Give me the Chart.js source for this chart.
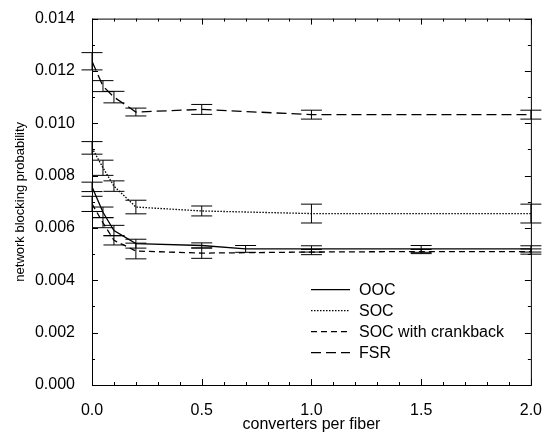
<!DOCTYPE html>
<html>
<head>
<meta charset="utf-8">
<script src="https://cdn.jsdelivr.net/npm/chart.js@4/dist/chart.umd.min.js"></script>
<style>
  html, body { margin: 0; padding: 0; background: #fff; }
  #wrap { width: 550px; height: 432px; position: relative; }
</style>
</head>
<body>
<div id="wrap"><canvas id="chart"></canvas></div>
<script>
// values
const xTicks = [0, 0.5, 1.0, 1.5, 2.0];
const yTicks = [0, 0.002, 0.004, 0.006, 0.008, 0.010, 0.012, 0.014];

const oocX = [0, 0.05, 0.1, 0.2, 0.5, 0.7, 1.0, 1.5, 2.0];
const oocY = [0.00757, 0.0066, 0.0059, 0.0054, 0.00533, 0.0052, 0.0052, 0.0052, 0.0052];
const oocErr = [0.00018, 0.0002, 0.0002, 0.00017, 0.0001, 0.00013, 0.00012, 0.00013, 0.00012];

const socX = [0, 0.05, 0.1, 0.2, 0.5, 1.0, 2.0];
const socY = [0.00906, 0.0083, 0.0076, 0.0068, 0.00665, 0.00655, 0.00655];
const socErr = [0.00024, 0.00029, 0.0002, 0.00026, 0.00019, 0.00036, 0.00036];

const cbX = [0, 0.05, 0.1, 0.2, 0.5, 1.0, 1.5, 2.0];
const cbY = [0.00692, 0.0062, 0.00553, 0.00512, 0.00504, 0.00508, 0.0051, 0.0051];
const cbErr = [0.00029, 0.00019, 0.00018, 0.0003, 0.0002, 0.0001, 0.00008, 0.0001];

const fsrX = [0, 0.05, 0.1, 0.2, 0.5, 1.0, 2.0];
const fsrY = [0.01237, 0.01142, 0.0110, 0.01043, 0.01053, 0.01033, 0.01033];
const fsrErr = [0.00033, 0.00021, 0.00022, 0.00015, 0.00019, 0.00017, 0.00017];

const FONT = "'Liberation Sans', Arial, sans-serif";

const pts = (xs, ys) => xs.map((x, i) => ({ x: x, y: ys[i] }));

function series(label, xs, ys, errs, dash) {
  return {
    label: label,
    data: pts(xs, ys),
    errors: errs,
    borderColor: '#000',
    borderWidth: 1.3,
    borderDash: dash,
    pointRadius: 0,
    fill: false,
    tension: 0
  };
}

// vertical error bars with caps
const errorBars = {
  id: 'errorBars',
  afterDatasetsDraw(chart) {
    const { ctx, scales: { x, y } } = chart;
    ctx.save();
    ctx.strokeStyle = '#000';
    ctx.lineWidth = 1;
    ctx.setLineDash([]);
    chart.data.datasets.forEach(ds => {
      ds.data.forEach((p, i) => {
        const px = x.getPixelForValue(p.x);
        const top = y.getPixelForValue(p.y + ds.errors[i]);
        const bot = y.getPixelForValue(p.y - ds.errors[i]);
        ctx.beginPath();
        ctx.moveTo(px, top);
        ctx.lineTo(px, bot);
        ctx.moveTo(px - 10.5, top);
        ctx.lineTo(px + 10.5, top);
        ctx.moveTo(px - 10.5, bot);
        ctx.lineTo(px + 10.5, bot);
        ctx.stroke();
      });
    });
    ctx.restore();
  }
};

// box around plot with inward ticks on all four sides
const frame = {
  id: 'frame',
  afterDraw(chart) {
    const { ctx, chartArea: a, scales: { x, y } } = chart;
    ctx.save();
    ctx.strokeStyle = '#000';
    ctx.lineWidth = 1;
    ctx.strokeRect(a.left + 0.5, a.top + 0.5, a.right - a.left, a.bottom - a.top);
    ctx.beginPath();
    for (let k = 0; k <= 20; k++) {
      const px = Math.round(x.getPixelForValue(k / 10)) + 0.5;
      const len = k % 5 === 0 ? 6 : 3;
      ctx.moveTo(px, a.bottom); ctx.lineTo(px, a.bottom - len);
      ctx.moveTo(px, a.top); ctx.lineTo(px, a.top + len);
    }
    for (let k = 0; k <= 14; k++) {
      const py = Math.round(y.getPixelForValue(k / 1000)) + 0.5;
      const len = k % 2 === 0 ? 6 : 3;
      ctx.moveTo(a.left, py); ctx.lineTo(a.left + len, py);
      ctx.moveTo(a.right, py); ctx.lineTo(a.right - len, py);
    }
    ctx.stroke();
    ctx.restore();
  }
};

// legend inside the lower right of the plot
const innerLegend = {
  id: 'innerLegend',
  afterDraw(chart) {
    const { ctx, chartArea: a } = chart;
    const x0 = a.left + 219;
    const y0 = a.top + 271;
    ctx.save();
    ctx.font = '16px ' + FONT;
    ctx.fillStyle = '#000';
    ctx.textBaseline = 'middle';
    chart.data.datasets.forEach((ds, i) => {
      const yy = y0 + i * 21;
      ctx.strokeStyle = '#000';
      ctx.lineWidth = ds.borderWidth;
      ctx.setLineDash(ds.borderDash || []);
      ctx.beginPath();
      ctx.moveTo(x0, yy);
      ctx.lineTo(x0 + 39, yy);
      ctx.stroke();
      ctx.fillText(ds.label, x0 + 48, yy + 1);
    });
    ctx.restore();
  }
};

new Chart(document.getElementById('chart'), {
  type: 'line',
  data: {
    datasets: [
      series('OOC', oocX, oocY, oocErr, []),
      series('SOC', socX, socY, socErr, [1.5, 1.5]),
      series('SOC with crankback', cbX, cbY, cbErr, [6, 4]),
      series('FSR', fsrX, fsrY, fsrErr, [10, 5])
    ]
  },
  options: {
    responsive: true,
    maintainAspectRatio: false,
    animation: false,
    layout: { padding: { top: 13, right: 13, left: 0, bottom: 0 } },
    plugins: {
      legend: { display: false },
      tooltip: { enabled: false }
    },
    scales: {
      x: {
        type: 'linear',
        min: 0,
        max: 2,
        afterBuildTicks: s => { s.ticks = xTicks.map(v => ({ value: v })); },
        afterFit: s => { s.height = 47; },
        grid: { display: false },
        border: { display: false },
        ticks: {
          color: '#000',
          padding: 8,
          maxRotation: 0,
          font: { family: FONT, size: 16 },
          callback: v => Number(v).toFixed(1)
        },
        title: {
          display: true,
          text: 'converters per fiber',
          color: '#000',
          padding: { top: 0, bottom: -1 },
          font: { family: FONT, size: 16, lineHeight: 1 }
        }
      },
      y: {
        min: 0,
        max: 0.014,
        afterBuildTicks: s => { s.ticks = yTicks.map(v => ({ value: v })); },
        afterFit: s => { s.width = 92; },
        grid: { display: false },
        border: { display: false },
        ticks: {
          color: '#000',
          padding: 9,
          font: { family: FONT, size: 16 },
          callback: v => Number(v).toFixed(3)
        },
        title: {
          display: true,
          text: 'network blocking probability',
          color: '#000',
          padding: { top: 13, bottom: 0 },
          font: { family: FONT, size: 13 }
        }
      }
    }
  },
  plugins: [errorBars, frame, innerLegend]
});
</script>
</body>
</html>
